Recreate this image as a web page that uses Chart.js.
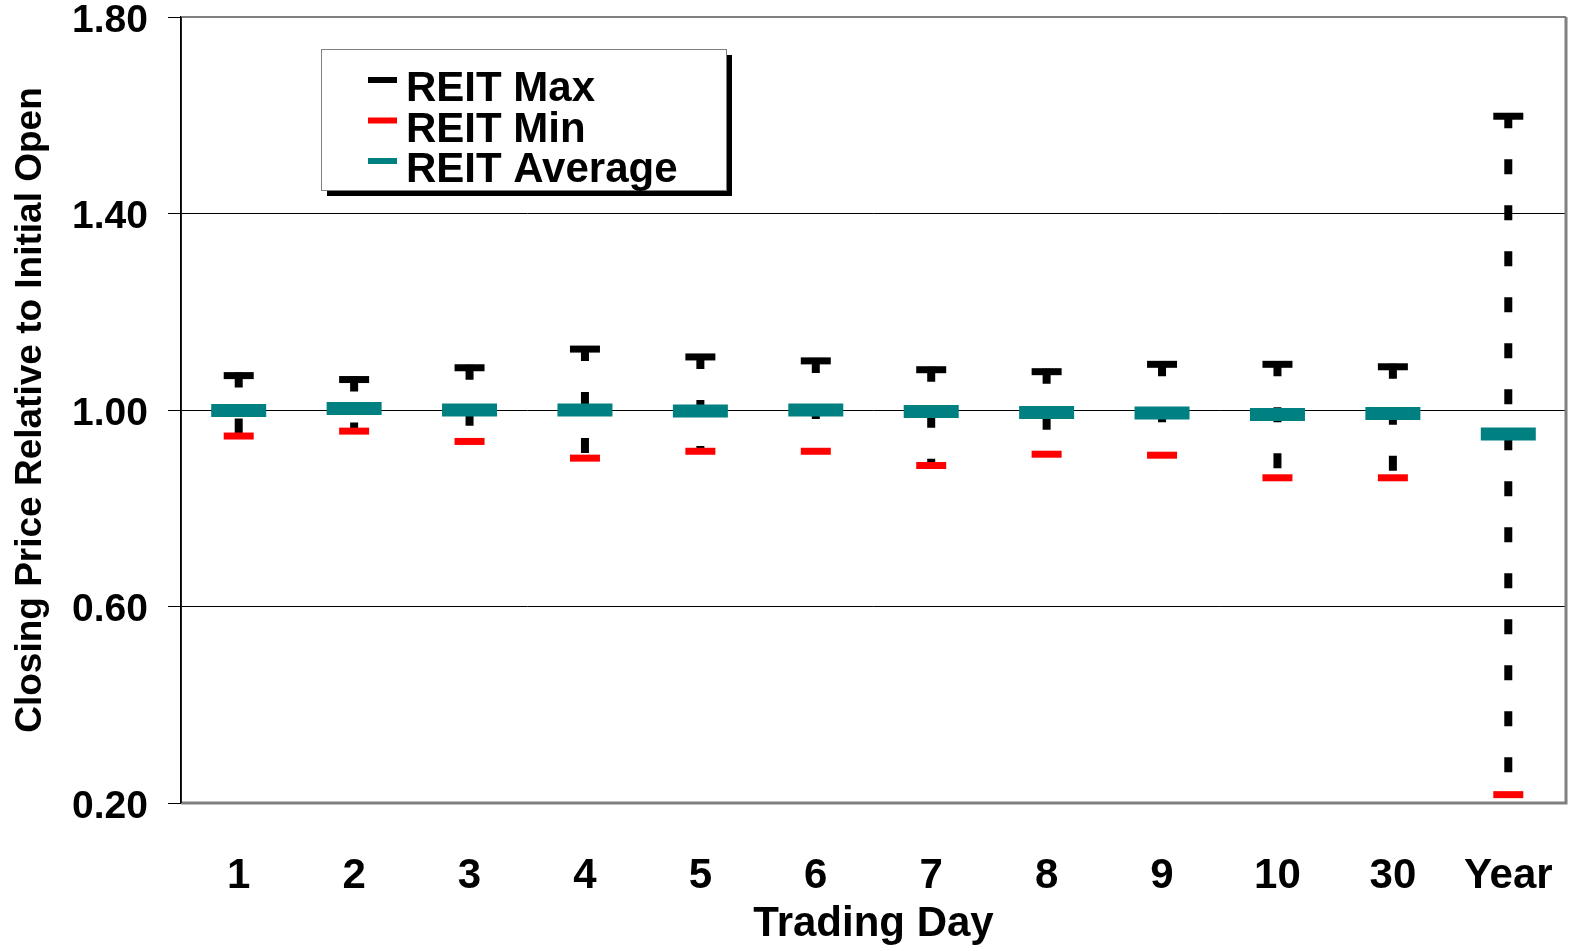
<!DOCTYPE html>
<html>
<head>
<meta charset="utf-8">
<script src="https://cdn.jsdelivr.net/npm/chart.js@4/dist/chart.umd.min.js"></script>
<style>
  html, body { margin: 0; padding: 0; background: #fff; }
  #wrap { width: 1570px; height: 951px; position: relative; }
</style>
</head>
<body>
<div id="wrap"><canvas id="reitChart"></canvas></div>
<script>
const categories = ['1', '2', '3', '4', '5', '6', '7', '8', '9', '10', '30', 'Year'];
const reitMax = [1.070, 1.062, 1.086, 1.124, 1.108, 1.100, 1.082, 1.078, 1.093, 1.093, 1.088, 1.598];
const reitMin = [0.947, 0.957, 0.936, 0.902, 0.916, 0.916, 0.887, 0.910, 0.908, 0.862, 0.862, 0.217];
const reitAvg = [0.999, 1.003, 1.000, 1.000, 0.998, 1.000, 0.997, 0.995, 0.994, 0.991, 0.993, 0.951];
const yTicks = [0.20, 0.60, 1.00, 1.40, 1.80];

const FONT = "'Liberation Sans', Arial, sans-serif";

// dashed high-low line between max and min, drawn behind the markers
const hiLoLines = {
  id: 'hiLoLines',
  beforeDatasetsDraw(chart) {
    const { ctx, scales: { x, y } } = chart;
    ctx.save();
    ctx.strokeStyle = '#000';
    ctx.lineWidth = 8;
    ctx.setLineDash([15, 31]);
    categories.forEach((c, i) => {
      const px = x.getPixelForValue(i);
      ctx.beginPath();
      ctx.moveTo(px, y.getPixelForValue(reitMax[i]) - 3);
      ctx.lineTo(px, y.getPixelForValue(reitMin[i]));
      ctx.stroke();
    });
    ctx.restore();
  }
};

// gray frame on top / right / bottom of plot area
const plotFrame = {
  id: 'plotFrame',
  afterDatasetsDraw(chart) {
    const { ctx, chartArea: a } = chart;
    ctx.save();
    ctx.strokeStyle = '#808080';
    ctx.lineWidth = 2;
    ctx.beginPath();
    ctx.moveTo(a.left, a.top);
    ctx.lineTo(a.right, a.top);
    ctx.stroke();
    ctx.lineWidth = 3;
    ctx.beginPath();
    ctx.moveTo(a.right, a.top);
    ctx.lineTo(a.right, a.bottom);
    ctx.lineTo(a.left, a.bottom);
    ctx.stroke();
    ctx.strokeStyle = '#000';
    ctx.lineWidth = 1.5;
    ctx.beginPath();
    ctx.moveTo(a.left, a.top);
    ctx.lineTo(a.left, a.bottom);
    ctx.stroke();
    ctx.restore();
  }
};

// boxed legend with drop shadow
const boxLegend = {
  id: 'boxLegend',
  afterDraw(chart) {
    const { ctx } = chart;
    const bx = 321, by = 49, bw = 405, bh = 141;
    ctx.save();
    ctx.fillStyle = '#000';
    ctx.fillRect(bx + 6, by + 6, bw, bh);
    ctx.fillStyle = '#fff';
    ctx.fillRect(bx, by, bw, bh);
    ctx.strokeStyle = '#808080';
    ctx.lineWidth = 1;
    ctx.strokeRect(bx + 0.5, by + 0.5, bw, bh);
    ctx.font = 'bold 42px ' + FONT;
    ctx.textBaseline = 'alphabetic';
    ctx.textAlign = 'left';
    chart.data.datasets.forEach((ds, i) => {
      const base = 101 + i * 40.5;
      ctx.fillStyle = ds.borderColor;
      ctx.fillRect(368, base - 24, 29, 6);
      ctx.fillStyle = '#000';
      ctx.fillText(ds.label, 406, base);
    });
    ctx.restore();
  }
};

new Chart(document.getElementById('reitChart'), {
  type: 'line',
  data: {
    labels: categories,
    datasets: [
      { label: 'REIT Max', data: reitMax, borderColor: '#000000', backgroundColor: '#000000',
        showLine: false, pointStyle: 'line', pointRadius: 15, pointBorderWidth: 7 },
      { label: 'REIT Min', data: reitMin, borderColor: '#ff0000', backgroundColor: '#ff0000',
        showLine: false, pointStyle: 'line', pointRadius: 15, pointBorderWidth: 7 },
      { label: 'REIT Average', data: reitAvg, borderColor: '#008080', backgroundColor: '#008080',
        showLine: false, pointStyle: 'line', pointRadius: 27.5, pointBorderWidth: 13 }
    ]
  },
  options: {
    responsive: true,
    maintainAspectRatio: false,
    animation: false,
    events: [],
    layout: { autoPadding: false, padding: { left: 0, right: 4, top: 17, bottom: 0 } },
    plugins: {
      legend: { display: false },
      tooltip: { enabled: false }
    },
    scales: {
      x: {
        type: 'category',
        offset: true,
        grid: { display: false, drawTicks: false },
        border: { display: false },
        ticks: {
          padding: 48,
          color: '#000',
          font: { family: FONT, size: 42, weight: 'bold' },
          maxRotation: 0
        },
        title: {
          display: true,
          text: 'Trading Day',
          color: '#000',
          font: { family: FONT, size: 42, weight: 'bold' },
          padding: { top: 0, bottom: 1 }
        },
        afterFit(s) { s.height = 148; s.paddingLeft = 0; s.paddingRight = 0; }
      },
      y: {
        min: 0.2,
        max: 1.8,
        afterBuildTicks(s) { s.ticks = yTicks.map(v => ({ value: v })); },
        grid: {
          color: c => (c.tick && (Math.abs(c.tick.value - 0.2) < 1e-6 || Math.abs(c.tick.value - 1.8) < 1e-6)) ? '#808080' : '#000',
          lineWidth: 1,
          tickLength: 13,
          tickColor: '#000'
        },
        border: { display: true, color: '#000', width: 1.5 },
        ticks: {
          padding: 20,
          labelOffset: 4,
          color: '#000',
          font: { family: FONT, size: 39, weight: 'bold' },
          callback: v => Number(v).toFixed(2)
        },
        title: {
          display: true,
          text: 'Closing Price Relative to Initial Open',
          color: '#000',
          font: { family: FONT, size: 37, weight: 'bold' },
          padding: { top: 9, bottom: 0 }
        },
        afterFit(s) { s.width = 181; s.paddingTop = 0; s.paddingBottom = 0; }
      }
    }
  },
  plugins: [hiLoLines, plotFrame, boxLegend]
});
</script>
</body>
</html>
